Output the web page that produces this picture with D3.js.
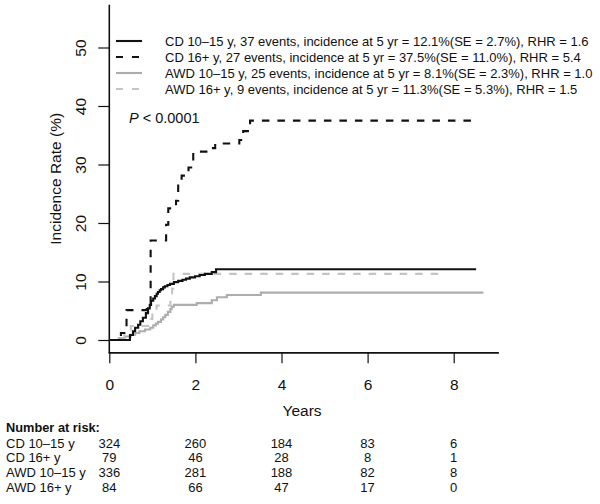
<!DOCTYPE html>
<html><head><meta charset="utf-8">
<script src="https://cdn.jsdelivr.net/npm/d3@7"></script>
<style>
html,body{margin:0;padding:0;background:#fff;}
svg text{font-family:"Liberation Sans",Arial,Helvetica,sans-serif;fill:#111;}
</style></head>
<body><svg id="c" width="600" height="504"></svg>
<script>
// ---- data ----
const xTicks = [0, 2, 4, 6, 8];
const yTicks = [0, 10, 20, 30, 40, 50];

const cd1015T = [0, 0.48, 0.55, 0.6, 0.67, 0.72, 0.78, 0.85, 0.9, 0.94, 0.97, 1.02, 1.06, 1.1, 1.13, 1.17, 1.2, 1.25, 1.29, 1.35, 1.41, 1.5, 1.6, 1.7, 1.78, 1.87, 1.99, 2.1, 2.22, 2.38, 2.48];
const cd1015V = [0, 0.85, 1.5, 2.1, 2.6, 3.2, 3.8, 4.6, 5.4, 6.0, 6.7, 7.1, 7.5, 7.9, 8.2, 8.5, 8.7, 9.0, 9.2, 9.4, 9.6, 9.9, 10.1, 10.3, 10.5, 10.7, 10.9, 11.1, 11.3, 11.6, 12.1];
const cd1015End = 8.52;

const cd16T = [0, 0.27, 0.4, 0.87, 0.96, 1.32, 1.37, 1.55, 1.6, 1.68, 1.84, 1.95, 2.29, 2.46, 3.02, 3.11, 3.27];
const cd16V = [0, 1.2, 5.1, 6.2, 17.0, 19.7, 22.5, 23.8, 26.9, 28.1, 29.5, 32.2, 32.8, 33.6, 34.2, 35.7, 37.5];
const cd16End = 8.52;

const awd1015T = [0, 0.22, 0.36, 0.5, 0.6, 0.7, 0.83, 0.95, 1.02, 1.08, 1.13, 1.2, 1.25, 1.3, 1.36, 1.42, 1.45, 1.5, 2.03, 2.38, 2.5, 2.73, 3.52];
const awd1015V = [0, 0.3, 0.6, 0.9, 1.2, 1.5, 1.8, 2.1, 2.5, 2.8, 3.1, 3.5, 3.9, 4.3, 4.8, 5.3, 5.7, 6.0, 6.3, 6.8, 7.3, 7.7, 8.1];
const awd1015End = 8.69;

const awd16T = [0, 0.35, 0.5, 0.9, 1.0, 1.1, 1.42, 1.46, 1.49];
const awd16V = [0, 1.2, 2.4, 3.6, 4.8, 5.9, 7.3, 8.8, 11.3];
const awd16End = 7.72;

const legendLabels = [
  "CD 10\u201315 y, 37 events,  incidence at 5 yr = 12.1%(SE = 2.7%), RHR = 1.6",
  "CD 16+ y, 27 events,  incidence at 5 yr = 37.5%(SE = 11.0%), RHR = 5.4",
  "AWD 10\u201315 y, 25 events,  incidence at 5 yr = 8.1%(SE = 2.3%), RHR = 1.0",
  "AWD 16+ y, 9 events,  incidence at 5 yr = 11.3%(SE = 5.3%), RHR = 1.5"
];
const riskLabels = ["CD 10\u201315 y", "CD 16+ y", "AWD 10\u201315 y", "AWD 16+ y"];
const riskCD1015 = [324, 260, 184, 83, 6];
const riskCD16 = [79, 46, 28, 8, 1];
const riskAWD1015 = [336, 281, 188, 82, 8];
const riskAWD16 = [84, 66, 47, 17, 0];

// ---- drawing ----
const svg = d3.select("#c");
const x = d3.scaleLinear().domain([0, 8]).range([109.3, 453.7]);
const y = d3.scaleLinear().domain([0, 50]).range([340, 47.5]);
const xMax = 9.05, yMin = -2.2, yMax = 57.3;

const styles = [
  {stroke: "#111", dash: null, w: 2.1},
  {stroke: "#111", dash: "7.5,8", w: 2.1},
  {stroke: "#adadad", dash: null, w: 2.1},
  {stroke: "#c4c4c4", dash: "7.5,8", w: 2.1}
];
const series = [
  {t: cd1015T, v: cd1015V, end: cd1015End},
  {t: cd16T, v: cd16V, end: cd16End},
  {t: awd1015T, v: awd1015V, end: awd1015End},
  {t: awd16T, v: awd16V, end: awd16End}
];

// axes box (L-shape)
svg.append("line").attr("x1", x(0)).attr("x2", x(0)).attr("y1", y(yMax)).attr("y2", y(yMin))
  .attr("stroke", "#111").attr("stroke-width", 1.6);
svg.append("line").attr("x1", x(0) - 0.8).attr("x2", x(xMax)).attr("y1", y(yMin)).attr("y2", y(yMin))
  .attr("stroke", "#111").attr("stroke-width", 1.6);

const gx = svg.append("g").attr("transform", `translate(0,${y(yMin)})`)
  .call(d3.axisBottom(x).tickValues(xTicks).tickSize(10.5).tickPadding(16).tickFormat(d3.format("d")));
gx.select(".domain").remove();
gx.selectAll(".tick line").attr("stroke", "#111").attr("stroke-width", 1.2);
gx.selectAll(".tick text").attr("font-size", 15.5).attr("font-family", "Liberation Sans, Arial, sans-serif").attr("fill", "#111");

const gy = svg.append("g").attr("transform", `translate(${x(0)},0)`)
  .call(d3.axisLeft(y).tickValues(yTicks).tickSize(11).tickFormat(d3.format("d")));
gy.select(".domain").remove();
gy.selectAll(".tick line").attr("stroke", "#111").attr("stroke-width", 1.2);
gy.selectAll(".tick text").attr("font-size", 15.5).attr("font-family", "Liberation Sans, Arial, sans-serif").attr("fill", "#111")
  .attr("x", null).attr("dy", null)
  .attr("transform", "translate(-29,0) rotate(-90)")
  .attr("text-anchor", "middle").attr("dominant-baseline", "central");

// axis titles
svg.append("text").attr("x", (x(0) + x(xMax)) / 2 - 2).attr("y", 410).attr("text-anchor", "middle")
  .attr("dominant-baseline", "central").attr("font-size", 15.5).text("Years");
svg.append("text").attr("transform", `translate(55,${(y(yMax) + y(yMin)) / 2}) rotate(-90)`)
  .attr("text-anchor", "middle").attr("dominant-baseline", "central").attr("font-size", 15.5).text("Incidence Rate (%)");

// curves (gray first, black on top)
const line = d3.line().x(d => x(d[0])).y(d => y(d[1])).curve(d3.curveStepAfter);
[2, 3, 0, 1].forEach(i => {
  const s = series[i];
  const pts = s.t.map((t, j) => [t, s.v[j]]);
  pts.push([s.end, s.v[s.v.length - 1]]);
  svg.append("path").attr("d", line(pts)).attr("fill", "none")
    .attr("stroke", styles[i].stroke).attr("stroke-width", styles[i].w)
    .attr("stroke-dasharray", styles[i].dash);
});

// legend
const legY = [41, 57, 73, 89];
legendLabels.forEach((lab, i) => {
  svg.append("line").attr("x1", 116).attr("x2", 142).attr("y1", legY[i]).attr("y2", legY[i])
    .attr("stroke", styles[i].stroke).attr("stroke-width", styles[i].w)
    .attr("stroke-dasharray", styles[i].dash ? "7,9" : null);
  svg.append("text").attr("x", 165).attr("y", legY[i]).attr("dominant-baseline", "central")
    .attr("font-size", 13).text(lab);
});

// P value
const pt = svg.append("text").attr("x", 129).attr("y", 118).attr("dominant-baseline", "central").attr("font-size", 14.5);
pt.append("tspan").attr("font-style", "italic").text("P");
pt.append("tspan").text(" < 0.0001");

// risk table
svg.append("text").attr("x", 6).attr("y", 427).attr("dominant-baseline", "central")
  .attr("font-size", 12.8).attr("font-weight", "bold").text("Number at risk:");
const riskRows = [riskCD1015, riskCD16, riskAWD1015, riskAWD16];
const rowY = [443, 457.5, 472, 487];
riskLabels.forEach((lab, i) => {
  svg.append("text").attr("x", 6).attr("y", rowY[i]).attr("dominant-baseline", "central")
    .attr("font-size", 13).text(lab);
  riskRows[i].forEach((n, j) => {
    svg.append("text").attr("x", x(xTicks[j])).attr("y", rowY[i]).attr("text-anchor", "middle")
      .attr("dominant-baseline", "central").attr("font-size", 13).text(n);
  });
});
</script></body></html>
